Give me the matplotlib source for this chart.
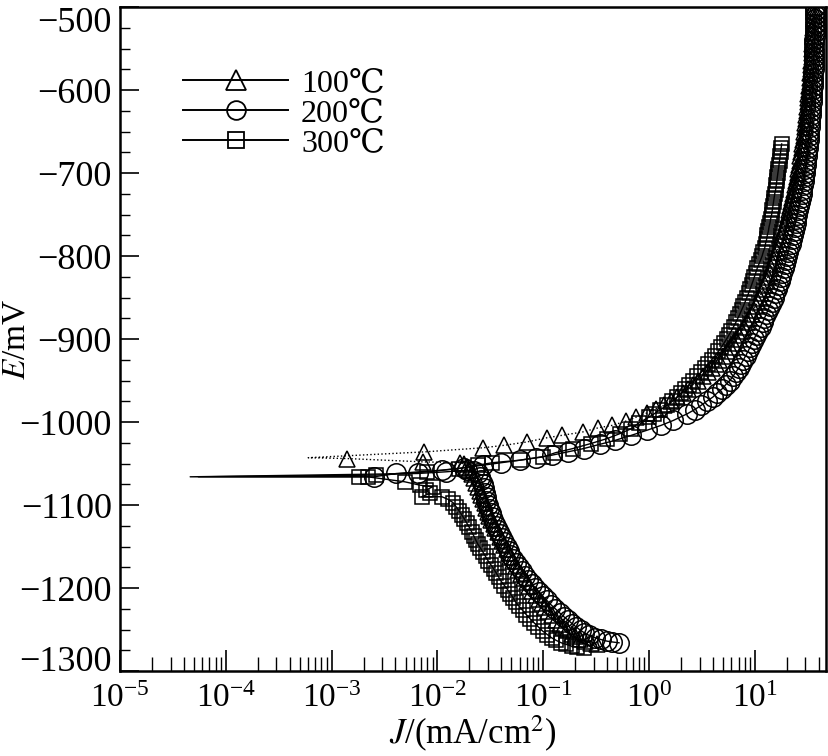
import matplotlib
matplotlib.use('Agg')
import matplotlib.pyplot as plt
from matplotlib.lines import Line2D
from matplotlib.ticker import LogLocator, MultipleLocator, NullFormatter

plt.rcParams['font.family'] = ['Liberation Serif', 'DejaVu Serif', 'Noto Sans CJK SC']
plt.rcParams['mathtext.fontset'] = 'stix'

labels = ['100℃', '200℃', '300℃']

# ---------------- 100 C (triangles) ----------------
t100_cath_E = [-1268, -1266, -1264, -1261, -1258, -1255, -1251, -1247, -1243, -1238,
               -1233, -1228, -1223, -1218, -1213, -1208, -1203, -1198, -1193, -1188,
               -1183, -1178, -1173, -1168, -1163, -1158, -1153, -1148, -1143, -1138,
               -1133, -1128, -1123, -1118, -1113, -1108, -1103, -1098, -1093, -1088,
               -1083, -1078, -1073, -1068, -1063, -1058, -1054, -1051, -1049, -1048,
               -1044]
t100_cath_J = [0.32, 0.28, 0.25, 0.22, 0.2, 0.185, 0.168, 0.155, 0.143, 0.131,
               0.121, 0.112, 0.104, 0.097, 0.091, 0.085, 0.079, 0.074, 0.07, 0.066,
               0.062, 0.058, 0.055, 0.052, 0.049, 0.047, 0.045, 0.043, 0.041, 0.039,
               0.037, 0.035, 0.034, 0.032, 0.031, 0.030, 0.029, 0.028, 0.027, 0.026,
               0.025, 0.024, 0.023, 0.022, 0.021, 0.020, 0.019, 0.018, 0.0165, 0.0073,
               0.0014]
t100_tail_E = -1043
t100_tail_J = 6e-4
t100_anod_E = [-1036, -1031, -1028, -1024, -1019, -1016, -1012, -1007, -1004, -999,
               -994, -989, -984, -980,
               -975, -970, -965, -960, -955, -950, -945, -940, -935, -930,
               -925, -920, -915, -910, -905, -900, -895, -890, -885, -880,
               -875, -870, -865, -860, -855, -850, -845, -840, -835, -830,
               -825, -820, -815, -810, -805, -800, -795, -790, -785, -780,
               -775, -770, -765, -760, -755, -750, -745, -740, -735, -730,
               -725, -720, -715, -710, -705, -700, -695, -690, -685, -680,
               -675, -670, -665, -660, -655, -650, -645, -640, -635, -630,
               -625, -620, -615, -610, -605, -600, -595, -590, -585, -580,
               -575, -570, -565, -560, -555, -550, -545, -540, -535, -530,
               -525, -520, -515, -510, -505, -500]
t100_anod_J = [0.0075, 0.027, 0.043, 0.07, 0.108, 0.15, 0.235, 0.33, 0.45, 0.6,
               0.76, 0.96, 1.16, 1.38,
               1.6, 1.85, 2.1, 2.35, 2.6, 2.9, 3.2, 3.6, 3.9, 4.3,
               4.6, 5.0, 5.4, 5.8, 6.2, 6.6, 7.0, 7.5, 7.9, 8.4,
               8.8, 9.3, 9.7, 10.2, 10.6, 11.1, 11.5, 12.0, 12.4, 12.9,
               13.3, 13.8, 14.2, 14.7, 15.1, 15.6, 16.1, 16.6, 17.1, 17.6,
               18.1, 18.6, 19.1, 19.6, 20.1, 20.6, 21.1, 21.6, 22.1, 22.6,
               23.0, 23.5, 23.9, 24.4, 24.8, 25.3, 25.7, 26.1, 26.5, 26.9,
               27.3, 27.7, 28.1, 28.5, 28.8, 29.2, 29.5, 29.9, 30.2, 30.6,
               30.9, 31.2, 31.5, 31.8, 32.1, 32.4, 32.6, 32.9, 33.1, 33.4,
               33.6, 33.9, 34.1, 34.3, 34.5, 34.7, 34.9, 35.1, 35.3, 35.5,
               35.6, 35.8, 35.9, 36.1, 36.2, 36.4]

# ---------------- 200 C (circles) ----------------
c200_cath_E = [-1266, -1265, -1264, -1262, -1260, -1257, -1254, -1251, -1247, -1243,
               -1239, -1235, -1230, -1225, -1220, -1215, -1210, -1205, -1200, -1195,
               -1190, -1185, -1180, -1175, -1170, -1165, -1160, -1155, -1150, -1145,
               -1140, -1135, -1130, -1125, -1120, -1115, -1110, -1105, -1100, -1095,
               -1090, -1085, -1080, -1075, -1070, -1066, -1062, -1059, -1058, -1060,
               -1062]
c200_cath_J = [0.52, 0.45, 0.40, 0.35, 0.31, 0.27, 0.245, 0.225, 0.205, 0.188,
               0.172, 0.158, 0.143, 0.13, 0.118, 0.108, 0.099, 0.091, 0.084, 0.078,
               0.072, 0.067, 0.063, 0.059, 0.055, 0.052, 0.049, 0.047, 0.045, 0.043,
               0.041, 0.039, 0.0375, 0.036, 0.0345, 0.033, 0.032, 0.031, 0.030, 0.029,
               0.0285, 0.028, 0.0275, 0.027, 0.026, 0.025, 0.024, 0.022, 0.019, 0.012,
               0.0065]
c200_tail_E = -1066
c200_tail_J = 4.6e-5
c200_anod_E = [-1066, -1062, -1058, -1055, -1052, -1049, -1046, -1043, -1040, -1036,
               -1032, -1027, -1022, -1016, -1010, -1004, -998,
               -990, -985, -980, -975, -970, -965, -960, -955, -950, -945,
               -940, -935, -930, -925, -920, -915, -910, -905, -900, -895,
               -890, -885, -880, -875, -870, -865, -860, -855, -850, -845,
               -840, -835, -830, -825, -820, -815, -810, -805, -800, -795,
               -790, -785, -780, -775, -770, -765, -760, -755, -750, -745,
               -740, -735, -730, -725, -720, -715, -710, -705, -700, -695,
               -690, -685, -680, -675, -670, -665, -660, -655, -650, -645,
               -640, -635, -630, -625, -620, -615, -610, -605, -600, -595,
               -590, -585, -580, -575, -570, -565, -560, -555, -550, -545,
               -540, -535, -530, -525, -520, -515, -510, -505, -500]
c200_anod_J = [0.0025, 0.0041, 0.011, 0.018, 0.027, 0.040, 0.06, 0.085, 0.12, 0.17,
               0.24, 0.34, 0.48, 0.68, 0.95, 1.3, 1.7,
               2.3, 2.7, 3.1, 3.5, 4.0, 4.4, 4.9, 5.3, 5.8, 6.2,
               6.6, 7.0, 7.4, 7.8, 8.2, 8.6, 9.0, 9.4, 9.8, 10.3,
               10.8, 11.3, 11.8, 12.3, 12.8, 13.3, 13.8, 14.4, 15.0, 15.6,
               16.2, 16.7, 17.2, 17.7, 18.2, 18.7, 19.2, 19.7, 20.2, 20.7,
               21.2, 21.7, 22.2, 22.7, 23.2, 23.7, 24.2, 24.7, 25.2, 25.7,
               26.2, 26.7, 27.2, 27.6, 28.0, 28.4, 28.8, 29.2, 29.6, 30.0,
               30.3, 30.7, 31.0, 31.3, 31.6, 31.9, 32.2, 32.5, 32.8, 33.0,
               33.3, 33.5, 33.8, 34.0, 34.2, 34.4, 34.6, 34.8, 35.0, 35.2,
               35.3, 35.5, 35.6, 35.8, 35.9, 36.0, 36.1, 36.2, 36.3, 36.4,
               36.5, 36.6, 36.7, 36.8, 36.9, 36.9, 37.0, 37.1, 37.2]

# ---------------- 300 C (squares) ----------------
s300_cath_E = [-1272, -1271, -1270, -1268, -1266, -1263, -1260, -1256, -1252, -1247,
               -1242, -1237, -1232, -1227, -1222, -1217, -1212, -1207, -1202, -1197,
               -1192, -1187, -1182, -1177, -1172, -1167, -1162, -1157, -1152, -1147,
               -1142, -1137, -1132, -1127, -1122, -1117, -1112, -1107, -1102, -1097,
               -1093, -1090, -1090, -1086, -1082, -1078, -1076, -1072, -1066, -1066]
s300_cath_J = [0.245, 0.21, 0.185, 0.165, 0.148, 0.132, 0.12, 0.109, 0.099, 0.09,
               0.082, 0.075, 0.069, 0.064, 0.059, 0.055, 0.052, 0.049, 0.046, 0.043,
               0.040, 0.038, 0.036, 0.034, 0.032, 0.030, 0.0285, 0.027, 0.0255, 0.024,
               0.023, 0.022, 0.021, 0.020, 0.019, 0.018, 0.017, 0.016, 0.015, 0.014,
               0.0125, 0.011, 0.0071, 0.0085, 0.0078, 0.009, 0.0068, 0.0049, 0.0022, 0.0018]
s300_tail_E = -1066
s300_tail_J = 5.5e-5
s300_anod_E = [-1064, -1060, -1056, -1052, -1049, -1046, -1042, -1037, -1032, -1026,
               -1020, -1014, -1008, -1001, -994,
               -990, -985, -980, -975, -970, -965, -960, -955, -950, -945,
               -940, -935, -930, -925, -920, -915, -910, -905, -900, -895,
               -890, -885, -880, -875, -870, -865, -860, -855, -850, -845,
               -840, -835, -830, -825, -820, -815, -810, -805, -800, -795,
               -790, -785, -780, -775, -770, -765, -760, -755, -750, -745,
               -740, -735, -730, -725, -720, -715, -710, -705, -700, -695,
               -690, -685, -680, -675, -670, -665]
s300_anod_J = [0.0026, 0.008, 0.016, 0.024, 0.033, 0.06, 0.10, 0.13, 0.19, 0.28,
               0.40, 0.53, 0.68, 0.80, 1.0,
               1.12, 1.28, 1.47, 1.66, 1.85, 2.0, 2.2, 2.4, 2.6, 2.85,
               3.1, 3.35, 3.6, 3.9, 4.2, 4.5, 4.8, 5.1, 5.4, 5.7,
               6.0, 6.3, 6.6, 6.9, 7.2, 7.5, 7.8, 8.1, 8.4, 8.7,
               9.0, 9.3, 9.6, 9.9, 10.2, 10.5, 10.9, 11.3, 11.7, 12.0,
               12.4, 12.6, 12.9, 13.1, 13.4, 13.6, 13.9, 14.1, 14.4, 14.6,
               14.8, 15.0, 15.2, 15.4, 15.7, 15.9, 16.1, 16.3, 16.5, 16.7,
               16.9, 17.1, 17.3, 17.5, 17.7, 17.9]

series = [
    (t100_cath_E, t100_cath_J, t100_tail_E, t100_tail_J, t100_anod_E, t100_anod_J, '^', 12, ':'),
    (c200_cath_E, c200_cath_J, c200_tail_E, c200_tail_J, c200_anod_E, c200_anod_J, 'o', 14, '-'),
    (s300_cath_E, s300_cath_J, s300_tail_E, s300_tail_J, s300_anod_E, s300_anod_J, 's', 10, '-'),
]

fig = plt.figure(figsize=(8.29, 7.56), dpi=100)
ax = fig.add_axes([0.1448, 0.1124, 0.8516, 0.8783])

for cE, cJ, tE, tJ, aE, aJ, mk, ms, ls in series:
    allE = list(cE) + [tE] + list(aE)
    allJ = list(cJ) + [tJ] + list(aJ)
    ax.plot(allJ, allE, color='black', lw=1.0, ls=ls, zorder=2)
    mE = list(cE) + list(aE)
    mJ = list(cJ) + list(aJ)
    ax.plot(mJ, mE, ls='none', marker=mk, ms=ms, mfc='none', mec='black', mew=1.1, zorder=3)

ax.set_xscale('log')
ax.set_xlim(1e-5, 47)
ax.set_ylim(-1300, -500)

ax.xaxis.set_major_locator(LogLocator(base=10, numticks=20))
ax.xaxis.set_minor_locator(LogLocator(base=10, subs=[2, 3, 4, 5, 6, 7, 8, 9], numticks=20))
ax.xaxis.set_minor_formatter(NullFormatter())
ax.yaxis.set_major_locator(MultipleLocator(100))
ax.yaxis.set_minor_locator(MultipleLocator(25))

ax.tick_params(axis='both', which='both', direction='in', top=False, right=False)
ax.tick_params(axis='x', which='major', length=15, width=1.2, pad=9, labelsize=24)
ax.tick_params(axis='x', which='minor', length=10, width=1.0)
ax.tick_params(axis='y', which='major', length=14, width=1.2, pad=6, labelsize=26)
ax.tick_params(axis='y', which='minor', length=7, width=1.0)
for sp in ax.spines.values():
    sp.set_linewidth(1.8)

fig.canvas.draw()
for lab in ax.get_yticklabels():
    txt = lab.get_text().replace('\u2212', '-')
    if txt == '-500':
        lab.set_va('top')
    elif txt == '-1300':
        lab.set_va('baseline')

ax.set_xlabel(r'$J$/(mA/cm$^2$)', fontsize=25, labelpad=0)
ax.set_ylabel(r'$E$/mV', fontsize=24)
ax.yaxis.set_label_coords(-0.125, 0.5)

handles = [
    Line2D([], [], color='black', lw=1.4, marker='^', ms=14.5, mfc='none', mec='black', mew=1.3),
    Line2D([], [], color='black', lw=1.4, marker='o', ms=13.5, mfc='none', mec='black', mew=1.3),
    Line2D([], [], color='black', lw=1.4, marker='s', ms=11.5, mfc='none', mec='black', mew=1.3),
]
ax.legend(handles, labels, loc='upper left', bbox_to_anchor=(0.089, 0.907), frameon=False,
          fontsize=23, handlelength=3.3, handletextpad=0.4, labelspacing=0.02,
          borderpad=0, borderaxespad=0)

fig.savefig('out.png', dpi=100)
